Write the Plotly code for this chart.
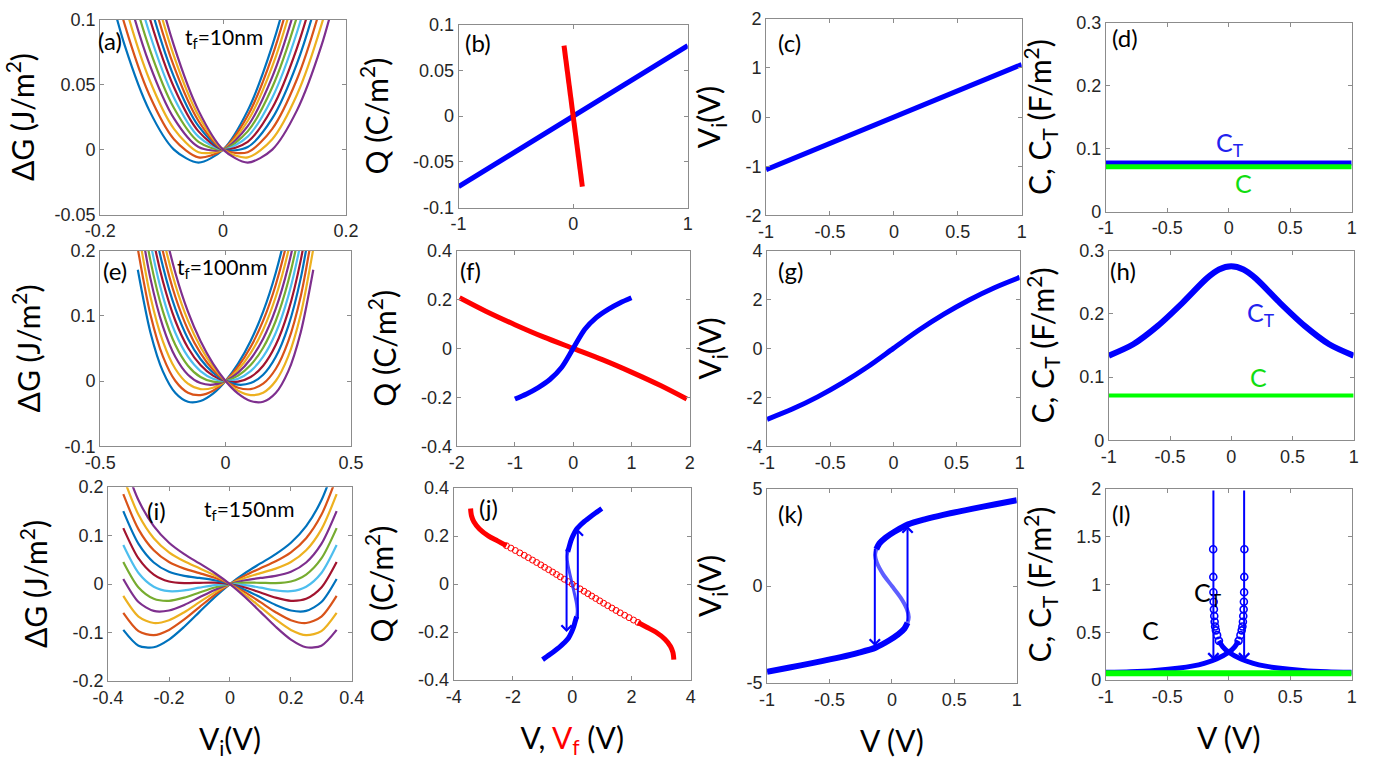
import plotly.graph_objects as go

# ---------------- data ----------------
# (a) t_f = 10 nm : Delta G vs Vi, 11 curves
VI_A = [-0.2, -0.16, -0.12, -0.08, -0.04, 0.0, 0.04, 0.08, 0.12, 0.16, 0.2]
DG_A = [
    [0.15, 0.08, 0.03, 0.0, -0.01, 0, 0.03, 0.08, 0.15, 0.24, 0.35],
    [0.17, 0.096, 0.042, 0.008, -0.006, 0, 0.026, 0.072, 0.138, 0.224, 0.33],
    [0.19, 0.112, 0.054, 0.016, -0.002, 0, 0.022, 0.064, 0.126, 0.208, 0.31],
    [0.21, 0.128, 0.066, 0.024, 0.002, 0, 0.018, 0.056, 0.114, 0.192, 0.29],
    [0.23, 0.144, 0.078, 0.032, 0.006, 0, 0.014, 0.048, 0.102, 0.176, 0.27],
    [0.25, 0.16, 0.09, 0.04, 0.01, 0, 0.01, 0.04, 0.09, 0.16, 0.25],
    [0.27, 0.176, 0.102, 0.048, 0.014, 0, 0.006, 0.032, 0.078, 0.144, 0.23],
    [0.29, 0.192, 0.114, 0.056, 0.018, 0, 0.002, 0.024, 0.066, 0.128, 0.21],
    [0.31, 0.208, 0.126, 0.064, 0.022, 0, -0.002, 0.016, 0.054, 0.112, 0.19],
    [0.33, 0.224, 0.138, 0.072, 0.026, 0, -0.006, 0.008, 0.042, 0.096, 0.17],
    [0.35, 0.24, 0.15, 0.08, 0.03, 0, -0.01, 0.0, 0.03, 0.08, 0.15],
]

# (e) t_f = 100 nm
VI_E = [-0.35, -0.3, -0.25, -0.2, -0.15, -0.1, -0.05, 0.0, 0.05, 0.1, 0.15, 0.2, 0.25, 0.3, 0.35]
DG_E = [
    [0.1705, 0.0749, 0.0148, -0.0184, -0.0317, -0.0307, -0.0194, 0, 0.0266, 0.0613, 0.1063, 0.1656, 0.2448, 0.3509, 0.4925],
    [0.2027, 0.1025, 0.0378, 0.0, -0.0179, -0.0215, -0.0148, 0, 0.022, 0.0521, 0.0925, 0.1472, 0.2218, 0.3233, 0.4603],
    [0.2349, 0.1301, 0.0608, 0.0184, -0.0041, -0.0123, -0.0102, 0, 0.0174, 0.0429, 0.0787, 0.1288, 0.1988, 0.2957, 0.4281],
    [0.2671, 0.1577, 0.0838, 0.0368, 0.0097, -0.0031, -0.0056, 0, 0.0128, 0.0337, 0.0649, 0.1104, 0.1758, 0.2681, 0.3959],
    [0.2993, 0.1853, 0.1068, 0.0552, 0.0235, 0.0061, -0.001, 0, 0.0082, 0.0245, 0.0511, 0.092, 0.1528, 0.2405, 0.3637],
    [0.3315, 0.2129, 0.1298, 0.0736, 0.0373, 0.0153, 0.0036, 0, 0.0036, 0.0153, 0.0373, 0.0736, 0.1298, 0.2129, 0.3315],
    [0.3637, 0.2405, 0.1528, 0.092, 0.0511, 0.0245, 0.0082, 0, -0.001, 0.0061, 0.0235, 0.0552, 0.1068, 0.1853, 0.2993],
    [0.3959, 0.2681, 0.1758, 0.1104, 0.0649, 0.0337, 0.0128, 0, -0.0056, -0.0031, 0.0097, 0.0368, 0.0838, 0.1577, 0.2671],
    [0.4281, 0.2957, 0.1988, 0.1288, 0.0787, 0.0429, 0.0174, 0, -0.0102, -0.0123, -0.0041, 0.0184, 0.0608, 0.1301, 0.2349],
    [0.4603, 0.3233, 0.2218, 0.1472, 0.0925, 0.0521, 0.022, 0, -0.0148, -0.0215, -0.0179, 0.0, 0.0378, 0.1025, 0.2027],
    [0.4925, 0.3509, 0.2448, 0.1656, 0.1063, 0.0613, 0.0266, 0, -0.0194, -0.0307, -0.0317, -0.0184, 0.0148, 0.0749, 0.1705],
]

# (i) t_f = 150 nm
VI_I = [-0.35, -0.3, -0.25, -0.2, -0.15, -0.1, -0.05, 0.0, 0.05, 0.1, 0.15, 0.2, 0.25, 0.3, 0.35]
DG_I = [
    [-0.0945, -0.1271, -0.1304, -0.1146, -0.0881, -0.0574, -0.0271, 0, 0.0229, 0.0426, 0.0619, 0.0854, 0.1196, 0.1729, 0.2555],
    [-0.0595, -0.0971, -0.1054, -0.0946, -0.0731, -0.0474, -0.0221, 0, 0.0179, 0.0326, 0.0469, 0.0654, 0.0946, 0.1429, 0.2205],
    [-0.0245, -0.0671, -0.0804, -0.0746, -0.0581, -0.0374, -0.0171, 0, 0.0129, 0.0226, 0.0319, 0.0454, 0.0696, 0.1129, 0.1855],
    [0.0105, -0.0371, -0.0554, -0.0546, -0.0431, -0.0274, -0.0121, 0, 0.0079, 0.0126, 0.0169, 0.0254, 0.0446, 0.0829, 0.1505],
    [0.0455, -0.0071, -0.0304, -0.0346, -0.0281, -0.0174, -0.0071, 0, 0.0029, 0.0026, 0.0019, 0.0054, 0.0196, 0.0529, 0.1155],
    [0.0805, 0.0229, -0.0054, -0.0146, -0.0131, -0.0074, -0.0021, 0, -0.0021, -0.0074, -0.0131, -0.0146, -0.0054, 0.0229, 0.0805],
    [0.1155, 0.0529, 0.0196, 0.0054, 0.0019, 0.0026, 0.0029, 0, -0.0071, -0.0174, -0.0281, -0.0346, -0.0304, -0.0071, 0.0455],
    [0.1505, 0.0829, 0.0446, 0.0254, 0.0169, 0.0126, 0.0079, 0, -0.0121, -0.0274, -0.0431, -0.0546, -0.0554, -0.0371, 0.0105],
    [0.1855, 0.1129, 0.0696, 0.0454, 0.0319, 0.0226, 0.0129, 0, -0.0171, -0.0374, -0.0581, -0.0746, -0.0804, -0.0671, -0.0245],
    [0.2205, 0.1429, 0.0946, 0.0654, 0.0469, 0.0326, 0.0179, 0, -0.0221, -0.0474, -0.0731, -0.0946, -0.1054, -0.0971, -0.0595],
    [0.2555, 0.1729, 0.1196, 0.0854, 0.0619, 0.0426, 0.0229, 0, -0.0271, -0.0574, -0.0881, -0.1146, -0.1304, -0.1271, -0.0945],
]

# (b) Q vs V (blue) and Q vs Vf (red)
V_B = [-1.0, 1.0]
Q_B = [-0.077, 0.077]
VF_B = [-0.08, 0.08]
QF_B = [0.077, -0.077]

# (c) Vi vs V
V_C = [-1.0, 1.0]
VI_C = [-1.07, 1.07]

# (d) C_T and C vs V
V_D = [-1.0, 1.0]
CT_D = [0.077, 0.077]
C_D = [0.071, 0.071]

# (f)
V_F = [-1.0, -0.8, -0.6, -0.4, -0.2, 0.0, 0.2, 0.4, 0.6, 0.8, 1.0]
Q_F = [-0.207, -0.186, -0.16, -0.127, -0.078, 0.0, 0.078, 0.127, 0.16, 0.186, 0.207]
VF_F = [-1.95, -1.5, -1.0, -0.5, 0.0, 0.5, 1.0, 1.5, 1.95]
QF_F = [0.207, 0.152, 0.097, 0.046, 0.0, -0.046, -0.097, -0.152, -0.207]

# (g)
V_G = [-1.0, -0.8, -0.6, -0.4, -0.2, 0.0, 0.2, 0.4, 0.6, 0.8, 1.0]
VI_G = [-2.9, -2.48, -1.98, -1.4, -0.74, 0.0, 0.74, 1.4, 1.98, 2.48, 2.9]

# (h)
V_H = [-1.0, -0.8, -0.6, -0.4, -0.2, -0.1, 0.0, 0.1, 0.2, 0.4, 0.6, 0.8, 1.0]
CT_H = [0.134, 0.152, 0.181, 0.217, 0.256, 0.27, 0.275, 0.27, 0.256, 0.217, 0.181, 0.152, 0.134]
V_H2 = [-1.0, 1.0]
C_H = [0.071, 0.071]

# (j) blue Q-V loop (lower, middle, upper parts) and red Q-Vf
QJ_LO = [-0.315, -0.3, -0.283, -0.261, -0.245, -0.226, -0.2, -0.178, -0.156, -0.135]
VJ_LO = [-1.0, -0.83, -0.64, -0.41, -0.27, -0.13, -0.02, 0.05, 0.1, 0.15]
QJ_MID = [-0.135, -0.114, -0.085, -0.043, 0.0, 0.043, 0.085, 0.114, 0.135]
VJ_MID = [0.15, 0.17, 0.15, 0.08, 0.0, -0.08, -0.15, -0.17, -0.15]
QJ_HI = [0.135, 0.156, 0.178, 0.2, 0.226, 0.245, 0.261, 0.283, 0.3, 0.315]
VJ_HI = [-0.15, -0.1, -0.05, 0.02, 0.13, 0.27, 0.41, 0.64, 0.83, 1.0]
QR_TOP = [0.315, 0.3, 0.285, 0.26, 0.23, 0.2, 0.18, 0.16]
VFR_TOP = [-3.43, -3.42, -3.4, -3.32, -3.13, -2.82, -2.52, -2.22]
QR_BOT = [-0.16, -0.18, -0.2, -0.23, -0.26, -0.285, -0.3, -0.315]
VFR_BOT = [2.22, 2.52, 2.82, 3.13, 3.32, 3.4, 3.42, 3.43]
QR_MID = [0.16, 0.15, 0.14, 0.13, 0.12, 0.11, 0.1, 0.09, 0.08, 0.07, 0.06, 0.05, 0.04, 0.03, 0.02, 0.01, 0.0,
          -0.01, -0.02, -0.03, -0.04, -0.05, -0.06, -0.07, -0.08, -0.09, -0.1, -0.11, -0.12, -0.13, -0.14, -0.15, -0.16]
VFR_MID = [-2.22, -2.07, -1.92, -1.77, -1.62, -1.48, -1.34, -1.2, -1.06, -0.93, -0.795, -0.66, -0.53, -0.4, -0.265, -0.13, 0.0,
           0.13, 0.265, 0.4, 0.53, 0.66, 0.795, 0.93, 1.06, 1.2, 1.34, 1.48, 1.62, 1.77, 1.92, 2.07, 2.22]
ARROWS_J = [[-0.19, 0.15, -0.19, -0.2], [0.19, -0.15, 0.19, 0.23]]  # tail x, tail y, head x, head y

# (k) Vi vs V with hysteresis
VIK_LO = [-4.43, -4.22, -3.98, -3.67, -3.45, -3.18, -2.8, -2.5, -2.2, -1.9]
VK_LO = [-1.0, -0.83, -0.64, -0.41, -0.27, -0.13, -0.02, 0.05, 0.1, 0.125]
VIK_MID = [-1.9, -1.6, -1.2, -0.6, 0.0, 0.6, 1.2, 1.6, 1.9]
VK_MID = [0.125, 0.135, 0.12, 0.07, 0.0, -0.07, -0.12, -0.135, -0.125]
VIK_HI = [1.9, 2.2, 2.5, 2.8, 3.18, 3.45, 3.67, 3.98, 4.22, 4.43]
VK_HI = [-0.125, -0.1, -0.05, 0.02, 0.13, 0.27, 0.41, 0.64, 0.83, 1.0]
ARROWS_K = [[-0.137, 2.0, -0.137, -3.1], [0.125, -1.9, 0.125, 3.1]]

# (l) C_T (two branches) and C
VL_LO_BAND = [-1.0, -0.8, -0.6, -0.4, -0.3, -0.2, -0.1, 0.0, 0.05, 0.08]
CL_LO_BAND = [0.08, 0.086, 0.1, 0.125, 0.145, 0.175, 0.22, 0.29, 0.35, 0.41]
VL_LO_COL = [0.08, 0.095, 0.105, 0.111, 0.115, 0.118, 0.121, 0.123, 0.125, 0.126, 0.127]
CL_LO_COL = [0.41, 0.47, 0.52, 0.56, 0.61, 0.67, 0.74, 0.82, 0.92, 1.08, 1.37]
VL_HI_BAND = [-0.08, -0.05, 0.0, 0.1, 0.2, 0.3, 0.4, 0.6, 0.8, 1.0]
CL_HI_BAND = [0.41, 0.35, 0.29, 0.22, 0.175, 0.145, 0.125, 0.1, 0.086, 0.08]
VL_HI_COL = [-0.08, -0.095, -0.105, -0.111, -0.115, -0.118, -0.121, -0.123, -0.125, -0.126, -0.127]
CL_HI_COL = [0.41, 0.47, 0.52, 0.56, 0.61, 0.67, 0.74, 0.82, 0.92, 1.08, 1.37]
V_L2 = [-1.0, 1.0]
C_L = [0.071, 0.071]
ARROWS_L = [[-0.125, 2.0, -0.125, 0.21], [0.125, 2.0, 0.125, 0.21]]

# axis ranges / ticks
RANGES = {
    1: ([-0.2, 0.2], [-0.2, 0, 0.2], [-0.05, 0.1], [-0.05, 0, 0.05, 0.1]),
    2: ([-1, 1], [-1, 0, 1], [-0.1, 0.1], [-0.1, -0.05, 0, 0.05, 0.1]),
    3: ([-1, 1], [-1, -0.5, 0, 0.5, 1], [-2, 2], [-2, -1, 0, 1, 2]),
    4: ([-1, 1], [-1, -0.5, 0, 0.5, 1], [0, 0.3], [0, 0.1, 0.2, 0.3]),
    5: ([-0.5, 0.5], [-0.5, 0, 0.5], [-0.1, 0.2], [-0.1, 0, 0.1, 0.2]),
    6: ([-2, 2], [-2, -1, 0, 1, 2], [-0.4, 0.4], [-0.4, -0.2, 0, 0.2, 0.4]),
    7: ([-1, 1], [-1, -0.5, 0, 0.5, 1], [-4, 4], [-4, -2, 0, 2, 4]),
    8: ([-1, 1], [-1, -0.5, 0, 0.5, 1], [0, 0.3], [0, 0.1, 0.2, 0.3]),
    9: ([-0.4, 0.4], [-0.4, -0.2, 0, 0.2, 0.4], [-0.2, 0.2], [-0.2, -0.1, 0, 0.1, 0.2]),
    10: ([-4, 4], [-4, -2, 0, 2, 4], [-0.4, 0.4], [-0.4, -0.2, 0, 0.2, 0.4]),
    11: ([-1, 1], [-1, -0.5, 0, 0.5, 1], [-5, 5], [-5, 0, 5]),
    12: ([-1, 1], [-1, -0.5, 0, 0.5, 1], [0, 2], [0, 0.5, 1, 1.5, 2]),
}
YTITLES = {1: "ΔG (J/m<sup>2</sup>)", 2: "Q (C/m<sup>2</sup>)", 3: "V<sub>i</sub>(V)", 4: "C, C<sub>T</sub> (F/m<sup>2</sup>)"}
XTITLES = {9: "V<sub>i</sub>(V)", 10: "V, <span style='color:#ff0000'>V<sub>f</sub></span> (V)", 11: "V (V)", 12: "V (V)"}
PANEL_LABELS = ["(a)", "(b)", "(c)", "(d)", "(e)", "(f)", "(g)", "(h)", "(i)", "(j)", "(k)", "(l)"]
TF_LABELS = ["t<sub>f</sub>=10nm", "t<sub>f</sub>=100nm", "t<sub>f</sub>=150nm"]

# ---------------- layout geometry (pixels) ----------------
W, H = 1396, 764
BOXES = {1: (86, 337, 10, 210), 2: (452, 686, 15, 203), 3: (766, 1027, 9, 211), 4: (1113, 1364, 13, 207),
         5: (86, 342, 247, 448), 6: (450, 688, 247, 448), 7: (767, 1025, 247, 448), 8: (1116, 1366, 247, 442),
         9: (94, 343, 490, 689), 10: (447, 689, 491, 688), 11: (767, 1022, 492, 691), 12: (1113, 1364, 492, 688)}
LABEL_POS = {1: (82, 31), 2: (456, 33), 3: (776, 33), 4: (1117, 28), 5: (87, 267), 6: (451, 267),
             7: (776, 268), 8: (1115, 267), 9: (132, 514), 10: (471, 511), 11: (776, 517), 12: (1117, 517)}
TF_POS = {1: (212, 29), 5: (210, 265), 9: (238, 513)}

MCOL = ['#0072BD', '#D95319', '#EDB120', '#7E2F8E', '#77AC30', '#4DBEEE', '#A2142F']
BLUE, RED, GREEN = '#0000ff', '#ff0000', '#00ff00'

fig = go.Figure()


def ax(n):
    return ('x' if n == 1 else 'x%d' % n), ('y' if n == 1 else 'y%d' % n)


def add(n, x, y, **kw):
    xa, ya = ax(n)
    kw.setdefault('mode', 'lines')
    fig.add_trace(go.Scatter(x=x, y=y, xaxis=xa, yaxis=ya, showlegend=False, hoverinfo='skip', **kw))


# families of Delta G curves
for n, xs, fam in [(1, VI_A, DG_A), (5, VI_E, DG_E), (9, VI_I, DG_I)]:
    for k, ys in enumerate(fam):
        add(n, xs, ys, line=dict(color=MCOL[k % 7], width=2.2, shape='spline', smoothing=0.8))

SP = dict(shape='spline', smoothing=0.8)
# (b)
add(2, V_B, Q_B, line=dict(color=BLUE, width=5))
add(2, VF_B, QF_B, line=dict(color=RED, width=5))
# (c)
add(3, V_C, VI_C, line=dict(color=BLUE, width=5))
# (d)
add(4, V_D, CT_D, line=dict(color=BLUE, width=5))
add(4, V_D, C_D, line=dict(color=GREEN, width=5))
# (f)
add(6, VF_F, QF_F, line=dict(color=RED, width=5, **SP))
add(6, V_F, Q_F, line=dict(color=BLUE, width=5, **SP))
# (g)
add(7, V_G, VI_G, line=dict(color=BLUE, width=5, **SP))
# (h)
add(8, V_H, CT_H, line=dict(color=BLUE, width=6, **SP))
add(8, V_H2, C_H, line=dict(color=GREEN, width=4))
# (j)
add(10, VFR_TOP, QR_TOP, line=dict(color=RED, width=5, **SP))
add(10, VFR_BOT, QR_BOT, line=dict(color=RED, width=5, **SP))
add(10, VFR_MID, QR_MID, mode='markers', marker=dict(symbol='circle-open', size=6, color=RED, line=dict(width=1, color=RED)))
add(10, VJ_LO, QJ_LO, line=dict(color=BLUE, width=5, **SP))
add(10, VJ_MID, QJ_MID, line=dict(color='rgba(40,40,255,0.85)', width=3, **SP))
add(10, VJ_HI, QJ_HI, line=dict(color=BLUE, width=5, **SP))
# (k)
add(11, VK_LO, VIK_LO, line=dict(color=BLUE, width=6, **SP))
add(11, VK_MID, VIK_MID, line=dict(color='rgba(40,40,255,0.75)', width=4, **SP))
add(11, VK_HI, VIK_HI, line=dict(color=BLUE, width=6, **SP))
# (l)
add(12, VL_LO_BAND, CL_LO_BAND, line=dict(color=BLUE, width=5, **SP))
add(12, VL_HI_BAND, CL_HI_BAND, line=dict(color=BLUE, width=5, **SP))
for vx, cy in [(VL_LO_COL, CL_LO_COL), (VL_HI_COL, CL_HI_COL)]:
    add(12, vx, cy, mode='markers', marker=dict(symbol='circle-open', size=7, color=BLUE, line=dict(width=1.6, color=BLUE)))
add(12, V_L2, C_L, line=dict(color=GREEN, width=6))

layout = dict(width=W, height=H, margin=dict(l=0, r=0, t=0, b=0), paper_bgcolor='white', plot_bgcolor='white',
              showlegend=False)


def lab(v):
    return '%g' % v


tickfont = dict(family='Liberation Sans, Arial, sans-serif', size=18, color='#262626')
titlefont = dict(family='Lato, Open Sans, sans-serif', size=30, color='black')
for n in range(1, 13):
    l, r, t, b = BOXES[n]
    xr, xt, yr, yt = RANGES[n]
    xa, ya = ax(n)
    common = dict(showline=True, linecolor='#8c8c8c', linewidth=1, mirror='ticks', ticks='inside', ticklen=4,
                  tickcolor='#8c8c8c', showgrid=False, zeroline=False, tickfont=tickfont, fixedrange=True)
    xd = dict(common, domain=[l / W, r / W], range=xr, tickvals=xt, ticktext=[lab(v) for v in xt], anchor=ya)
    yd = dict(common, domain=[1 - b / H, 1 - t / H], range=yr, tickvals=yt, ticktext=[lab(v) for v in yt], anchor=xa)
    yd['title'] = dict(text=YTITLES[(n - 1) % 4 + 1], font=titlefont)
    if n in XTITLES:
        xd['title'] = dict(text=XTITLES[n], font=titlefont, standoff=22)
    layout['xaxis' if n == 1 else 'xaxis%d' % n] = xd
    layout['yaxis' if n == 1 else 'yaxis%d' % n] = yd

ann = []
lblfont = dict(family='Lato, Open Sans, sans-serif', size=24, color='black')
for n in range(1, 13):
    px, py = LABEL_POS[n]
    ann.append(dict(text=PANEL_LABELS[n - 1], x=px / W, y=1 - py / H, xref='paper', yref='paper',
                    xanchor='left', yanchor='middle', showarrow=False, font=lblfont))
for (n, (px, py)), txt in zip(TF_POS.items(), TF_LABELS):
    ann.append(dict(text=txt, x=px / W, y=1 - py / H, xref='paper', yref='paper', xanchor='center',
                    yanchor='middle', showarrow=False, font=dict(family='Lato, Open Sans, sans-serif', size=21, color='black')))

cfont = dict(family='Lato, Open Sans, sans-serif', size=25)
ann += [
    dict(text="C<sub>T</sub>", x=0.01, y=0.108, xref='x4', yref='y4', showarrow=False, font=dict(cfont, color='#2222ee')),
    dict(text="C", x=0.12, y=0.045, xref='x4', yref='y4', showarrow=False, font=dict(cfont, color='#11dd11')),
    dict(text="C<sub>T</sub>", x=0.245, y=0.2, xref='x8', yref='y8', showarrow=False, font=dict(cfont, color='#2222ee')),
    dict(text="C", x=0.226, y=0.1, xref='x8', yref='y8', showarrow=False, font=dict(cfont, color='#11dd11')),
    dict(text="C<sub>T</sub>", x=-0.17, y=0.9, xref='x12', yref='y12', showarrow=False, font=dict(cfont, color='black')),
    dict(text="C", x=-0.64, y=0.52, xref='x12', yref='y12', showarrow=False, font=dict(cfont, color='black')),
]

for n, arrows in [(10, ARROWS_J), (11, ARROWS_K), (12, ARROWS_L)]:
    xa, ya = ax(n)
    for tx, ty, hx, hy in arrows:
        ann.append(dict(text='', x=hx, y=hy, ax=tx, ay=ty, xref=xa, yref=ya, axref=xa, ayref=ya, showarrow=True,
                        arrowhead=4, arrowsize=1, arrowwidth=2, arrowcolor=BLUE, standoff=0, startstandoff=0,
                        font=dict(size=12)))

layout['annotations'] = ann
fig.update_layout(**layout)
fig.write_html("out.html")
